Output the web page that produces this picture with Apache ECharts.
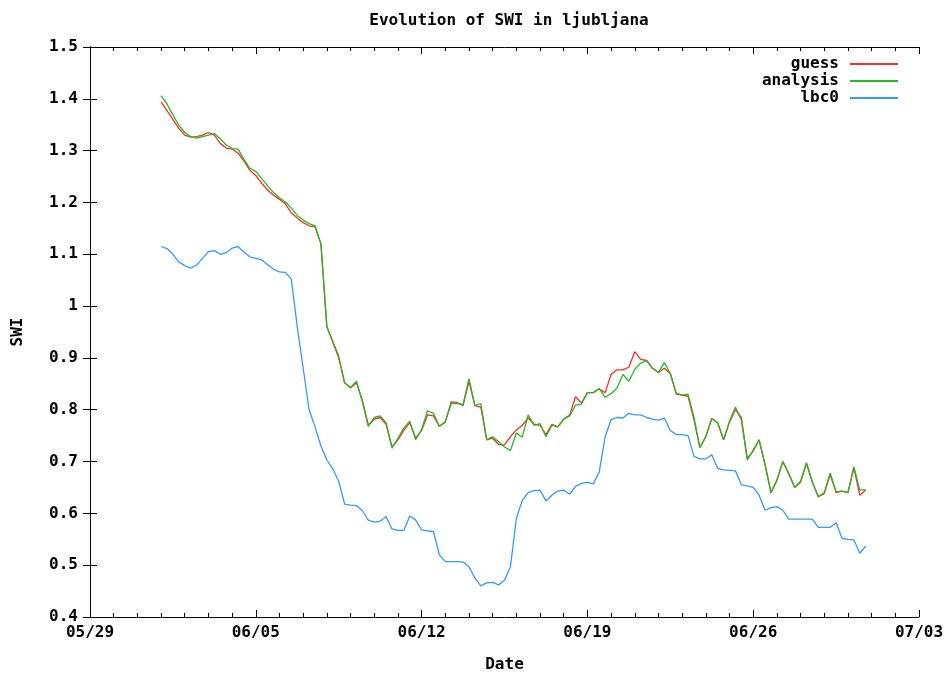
<!DOCTYPE html>
<html>
<head>
<meta charset="utf-8">
<script src="https://cdn.jsdelivr.net/npm/echarts@6/dist/echarts.min.js"></script>
<style>
html,body{margin:0;padding:0;background:#fff;}
#chart{width:946px;height:673px;}
</style>
</head>
<body>
<div id="chart"></div>
<script>
// Tick labels of the date axis (one per week, starting 05/29)
const xTickLabels = ['05/29', '06/05', '06/12', '06/19', '06/26', '07/03'];
// Sampling: first sample 06/01 00:00 (day 3 after 05/29), every 6 hours
const firstSampleDay = 3;
const sampleStepHours = 6;

const guess = [
  1.394, 1.377, 1.360, 1.343, 1.330, 1.326, 1.327, 1.330, 1.335, 1.330,
  1.314, 1.305, 1.303, 1.295, 1.280, 1.262, 1.252, 1.237, 1.224, 1.214,
  1.206, 1.197, 1.180, 1.170, 1.161, 1.155, 1.153, 1.120, 0.960, 0.932,
  0.903, 0.852, 0.842, 0.852, 0.818, 0.770, 0.782, 0.785, 0.772, 0.728,
  0.742, 0.760, 0.775, 0.745, 0.760, 0.790, 0.788, 0.768, 0.776, 0.815,
  0.814, 0.808, 0.855, 0.808, 0.805, 0.742, 0.745, 0.733, 0.732, 0.748,
  0.761, 0.770, 0.784, 0.772, 0.770, 0.752, 0.772, 0.767, 0.782, 0.790,
  0.825, 0.813, 0.833, 0.833, 0.840, 0.833, 0.868, 0.877, 0.877, 0.882,
  0.912, 0.897, 0.895, 0.880, 0.872, 0.880, 0.870, 0.830, 0.828, 0.826,
  0.780, 0.727, 0.748, 0.783, 0.775, 0.742, 0.776, 0.800, 0.785, 0.706,
  0.720, 0.742, 0.693, 0.640, 0.663, 0.700, 0.676, 0.650, 0.660, 0.696,
  0.660, 0.632, 0.638, 0.675, 0.640, 0.643, 0.640, 0.688, 0.635, 0.645
];

const analysis = [
  1.406, 1.390, 1.369, 1.349, 1.335, 1.327, 1.324, 1.327, 1.330, 1.333,
  1.323, 1.311, 1.304, 1.303, 1.283, 1.266, 1.260, 1.246, 1.232, 1.219,
  1.209, 1.201, 1.189, 1.175, 1.166, 1.159, 1.155, 1.120, 0.960, 0.930,
  0.900, 0.852, 0.843, 0.855, 0.815, 0.768, 0.785, 0.788, 0.775, 0.726,
  0.745, 0.765, 0.778, 0.742, 0.762, 0.798, 0.793, 0.768, 0.777, 0.812,
  0.812, 0.810, 0.860, 0.808, 0.812, 0.742, 0.748, 0.738, 0.728, 0.721,
  0.755, 0.747, 0.790, 0.770, 0.773, 0.748, 0.770, 0.767, 0.782, 0.788,
  0.809, 0.811, 0.833, 0.833, 0.841, 0.824, 0.831, 0.842, 0.868, 0.855,
  0.878, 0.890, 0.895, 0.880, 0.872, 0.891, 0.870, 0.832, 0.828, 0.830,
  0.785, 0.727, 0.748, 0.783, 0.775, 0.742, 0.778, 0.805, 0.780, 0.703,
  0.722, 0.742, 0.695, 0.640, 0.665, 0.700, 0.678, 0.650, 0.662, 0.698,
  0.660, 0.632, 0.640, 0.678, 0.642, 0.643, 0.640, 0.690, 0.645, 0.646
];

const lbc0 = [
  1.115, 1.111, 1.100, 1.085, 1.078, 1.073, 1.079, 1.092, 1.105, 1.107,
  1.100, 1.103, 1.112, 1.115, 1.104, 1.095, 1.092, 1.089, 1.080, 1.071,
  1.066, 1.065, 1.052, 0.960, 0.880, 0.800, 0.767, 0.730, 0.703, 0.686,
  0.662, 0.618, 0.616, 0.615, 0.605, 0.587, 0.583, 0.585, 0.594, 0.570,
  0.567, 0.567, 0.595, 0.587, 0.568, 0.566, 0.565, 0.520, 0.507, 0.507,
  0.507, 0.506, 0.497, 0.475, 0.460, 0.466, 0.467, 0.462, 0.471, 0.497,
  0.590, 0.625, 0.640, 0.644, 0.645, 0.624, 0.635, 0.643, 0.645, 0.637,
  0.652, 0.658, 0.660, 0.657, 0.680, 0.748, 0.781, 0.785, 0.784, 0.793,
  0.790, 0.790, 0.785, 0.782, 0.780, 0.784, 0.760, 0.752, 0.752, 0.750,
  0.710, 0.705, 0.705, 0.713, 0.687, 0.684, 0.683, 0.682, 0.655, 0.653,
  0.650, 0.635, 0.606, 0.611, 0.613, 0.606, 0.589, 0.589, 0.589, 0.589,
  0.589, 0.573, 0.573, 0.573, 0.582, 0.552, 0.550, 0.549, 0.523, 0.537
];

const seriesNames = ['guess', 'analysis', 'lbc0'];
const seriesValues = [guess, analysis, lbc0];
const seriesColors = ['#ff2a2a', '#22bb22', '#3399ff'];

function toPairs(values) {
  return values.map((v, i) => [firstSampleDay + i * sampleStepHours / 24, v]);
}

const FONT = 'DejaVu Sans Mono';
const txt = { color: '#000', fontFamily: FONT, fontWeight: 'bold', fontSize: 16 };

const chart = echarts.init(document.getElementById('chart'), null, { renderer: 'canvas' });

const axisLineStyle = { show: true, lineStyle: { color: '#000', width: 1 } };
const majorTick = { show: true, inside: true, length: 7, lineStyle: { color: '#000' } };
const minorTick = { show: true, splitNumber: 7, length: 4, lineStyle: { color: '#000' } };

const option = {
  animation: false,
  backgroundColor: '#fff',
  title: {
    text: 'Evolution of SWI in ljubljana',
    left: 504,
    top: 8,
    textAlign: 'center',
    textStyle: Object.assign({}, txt)
  },
  legend: {
    orient: 'vertical',
    right: 43,
    top: 51,
    align: 'right',
    icon: 'rect',
    itemWidth: 48,
    itemHeight: 2,
    itemGap: 1,
    textStyle: Object.assign({ padding: [0, 6, 0, 0] }, txt),
    data: seriesNames.map(n => ({ name: n }))
  },
  grid: { left: 90, top: 47, right: 27, bottom: 56, containLabel: false, outerBoundsMode: 'none' },
  xAxis: [
    {
      type: 'value',
      min: 0, max: 35, interval: 7,
      name: 'Date',
      nameLocation: 'middle',
      nameGap: 40,
      nameTextStyle: Object.assign({}, txt),
      axisLine: axisLineStyle,
      axisTick: majorTick,
      minorTick: minorTick,
      splitLine: { show: false },
      axisLabel: Object.assign({ margin: 8, formatter: v => xTickLabels[Math.round(v / 7)] }, txt)
    },
    {
      type: 'value',
      position: 'top',
      min: 0, max: 35, interval: 7,
      axisLine: axisLineStyle,
      axisTick: majorTick,
      minorTick: minorTick,
      splitLine: { show: false },
      axisLabel: { show: false }
    }
  ],
  yAxis: [
    {
      type: 'value',
      min: 0.4, max: 1.5, interval: 0.1,
      name: 'SWI',
      nameLocation: 'middle',
      nameGap: 64,
      nameRotate: 90,
      nameTextStyle: Object.assign({}, txt),
      axisLine: axisLineStyle,
      axisTick: majorTick,
      splitLine: { show: false },
      axisLabel: Object.assign({ margin: 12, formatter: v => String(Math.round(v * 10) / 10) }, txt)
    },
    {
      type: 'value',
      position: 'right',
      min: 0.4, max: 1.5, interval: 0.1,
      axisLine: axisLineStyle,
      axisTick: majorTick,
      splitLine: { show: false },
      axisLabel: { show: false }
    }
  ],
  series: seriesNames.map((name, k) => ({
    name: name,
    type: 'line',
    xAxisIndex: 0,
    yAxisIndex: 0,
    symbol: 'none',
    showSymbol: false,
    smooth: false,
    color: seriesColors[k],
    lineStyle: { color: seriesColors[k], width: 1.3 },
    data: toPairs(seriesValues[k])
  }))
};

chart.setOption(option);
</script>
</body>
</html>
